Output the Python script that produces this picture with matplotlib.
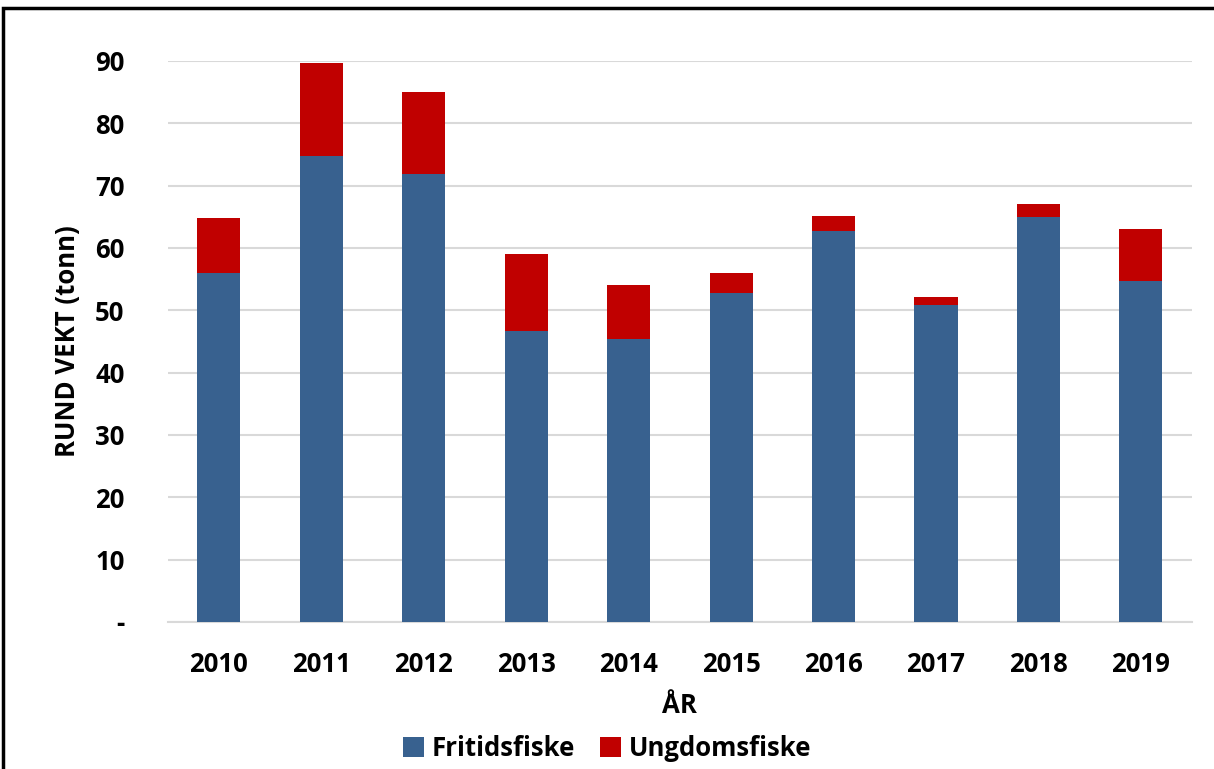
import matplotlib.pyplot as plt
import numpy as np
from matplotlib.patches import Rectangle

years = ['2010', '2011', '2012', '2013', '2014', '2015', '2016', '2017', '2018', '2019']
fritid = [56.0, 74.8, 71.9, 46.7, 45.4, 52.8, 62.7, 50.9, 65.0, 54.7]
ungdom = [8.8, 14.9, 13.1, 12.3, 8.7, 3.2, 2.4, 1.2, 2.1, 8.4]
yticks = [0, 10, 20, 30, 40, 50, 60, 70, 80, 90]
ytick_labels = ['-', '10', '20', '30', '40', '50', '60', '70', '80', '90']

plt.rcParams['font.family'] = ['Open Sans', 'DejaVu Sans']
plt.rcParams['font.weight'] = 'bold'

fig = plt.figure(figsize=(12.14, 7.69), dpi=100)
ax = fig.add_axes([0.138, 0.1912, 0.844, 0.7295])

x = np.arange(len(years))
ax.bar(x, fritid, width=0.42, color='#38618f', label='Fritidsfiske', zorder=3)
ax.bar(x, ungdom, width=0.42, bottom=fritid, color='#c00000', label='Ungdomsfiske', zorder=3)

ax.set_xlim(-0.5, len(years) - 0.5)
ax.set_ylim(0, 90)
ax.set_yticks(yticks)
ax.set_yticklabels(ytick_labels)
ax.set_xticks(x)
ax.set_xticklabels(years)
ax.tick_params(axis='both', length=0, labelsize=18.5)
ax.tick_params(axis='y', pad=31)
ax.tick_params(axis='x', pad=21)
for lbl in ax.get_xticklabels() + ax.get_yticklabels():
    lbl.set_fontweight('bold')

ax.yaxis.grid(True, color='#d9d9d9', linewidth=1.5, zorder=0)
for s in ['top', 'right', 'left']:
    ax.spines[s].set_visible(False)
ax.spines['bottom'].set_color('#d9d9d9')
ax.spines['bottom'].set_linewidth(1.5)

ax.set_ylabel('RUND VEKT (tonn)', fontsize=18.5, fontweight='bold', labelpad=10)
ax.set_xlabel('ÅR', fontsize=18.5, fontweight='bold', labelpad=10)

leg = fig.legend(loc='center', bbox_to_anchor=(0.5, 0.027), ncol=2, frameon=False,
                 handlelength=0.8, handleheight=0.8, handletextpad=0.3,
                 columnspacing=1.0, prop={'weight': 'bold', 'size': 18.5})

# outer frame
fig.patches.append(Rectangle((3 / 1214, -0.01), 1.05, 1 - 8 / 769 + 0.01,
                             transform=fig.transFigure, fill=False,
                             edgecolor='black', linewidth=2.5))

fig.savefig('out.png', dpi=100)
